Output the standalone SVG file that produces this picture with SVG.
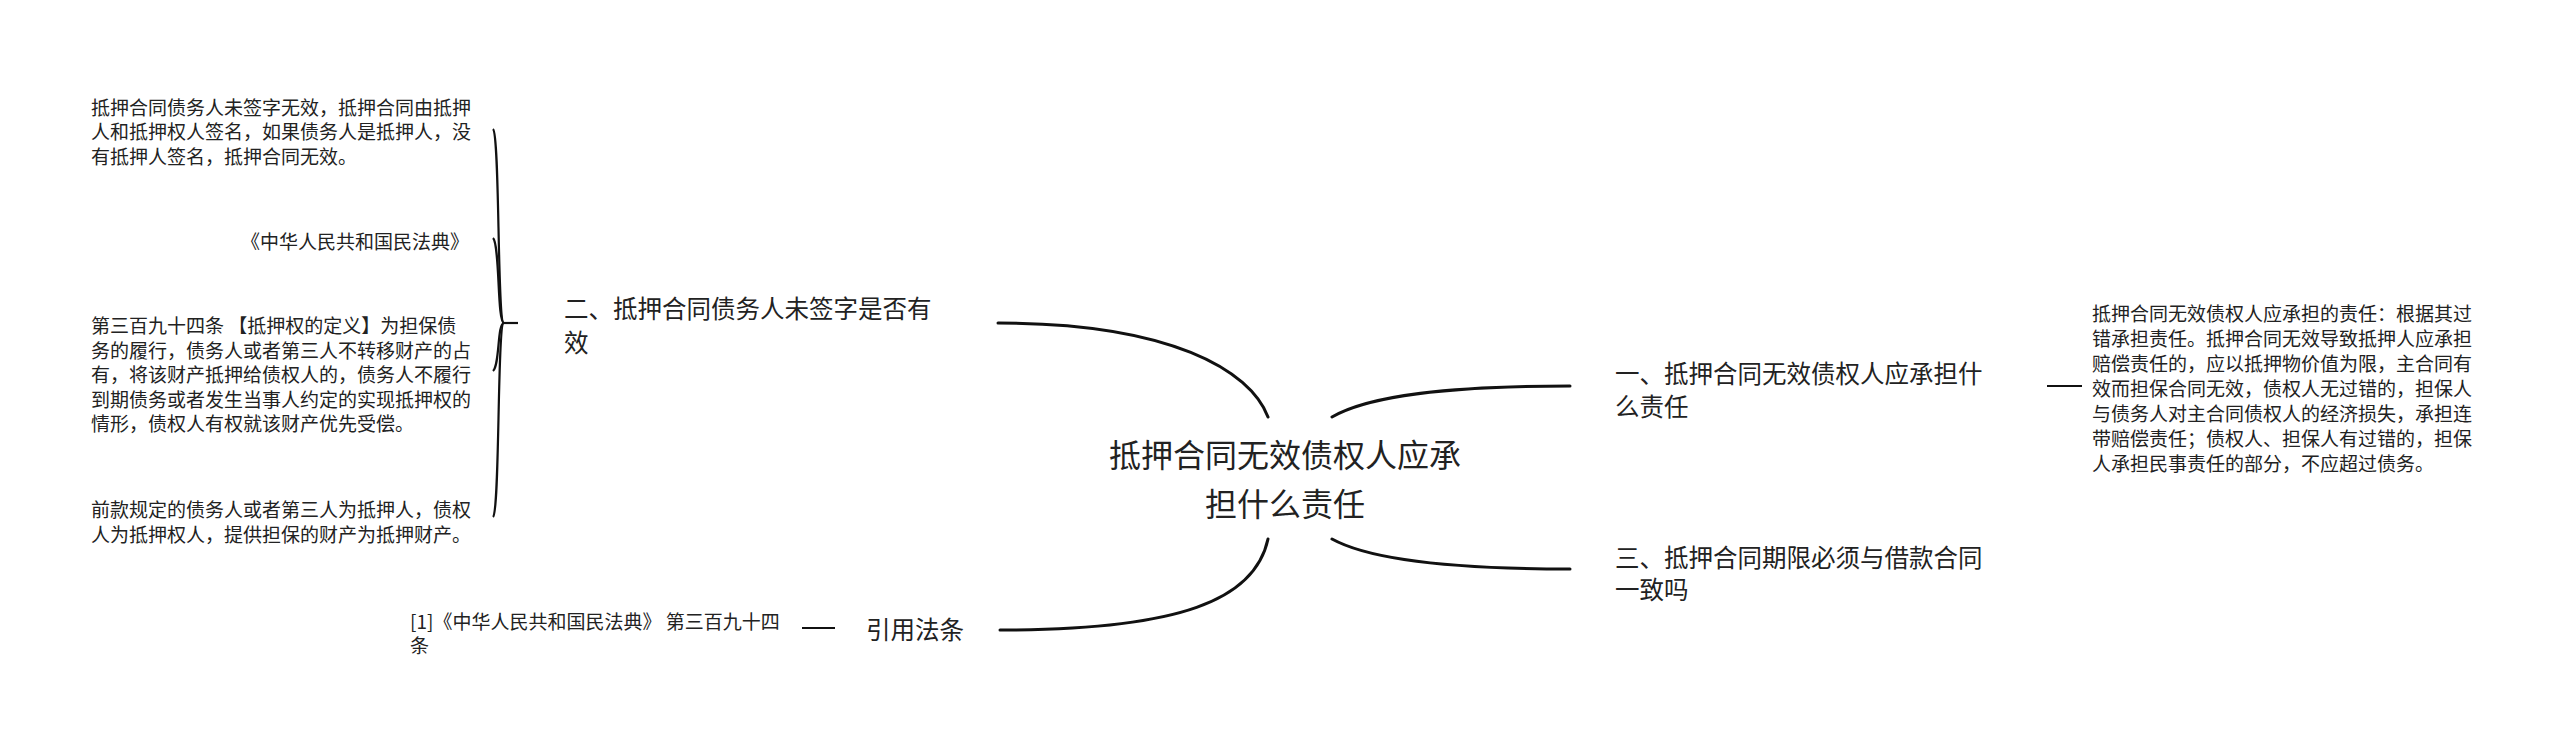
<svg xmlns="http://www.w3.org/2000/svg" width="2560" height="744" viewBox="0 0 2560 744">
<style>
text{font-family:"Noto Sans CJK SC","Noto Sans",sans-serif;fill:#222;dominant-baseline:central}
.s{font-size:19px}
.m{font-size:24.5px}
.t{font-size:32px}
.c{fill:none;stroke:#111;stroke-width:3;stroke-linecap:round}
.b{fill:none;stroke:#111;stroke-width:2.2}
</style>
<rect width="2560" height="744" fill="#fff"/>
<g id="connectors">
<path class="c" d="M998 323 C1170 323 1250 370 1268 417"/>
<path class="c" d="M1000 630 C1180 630 1255 600 1268 539"/>
<path class="c" d="M1332 417 C1370 395 1450 386 1570 386"/>
<path class="c" d="M1332 539 C1370 560 1450 569 1570 569"/>
<path class="b" d="M504 323 L518 323"/>
<path class="b" d="M504 323 C497 323 500 135 493 129"/>
<path class="b" d="M504 323 C497 323 500 244 493 238"/>
<path class="b" d="M504 323 C497 323 500 365 493 371"/>
<path class="b" d="M504 323 C497 323 500 511 493 517"/>
<path class="b" d="M802 628 L835 628"/>
<path class="b" d="M2047 386 L2082 386"/>
</g>
<g id="root"><text class="t" x="1285" y="453" text-anchor="middle">抵押合同无效债权人应承</text><text class="t" x="1285" y="502" text-anchor="middle">担什么责任</text></g>
<g id="n1"><text class="m" x="1615" y="372">一、抵押合同无效债权人应承担什</text><text class="m" x="1615" y="405">么责任</text></g>
<g id="n1a"><text class="s" x="2092" y="312">抵押合同无效债权人应承担的责任：根据其过</text><text class="s" x="2092" y="337">错承担责任。抵押合同无效导致抵押人应承担</text><text class="s" x="2092" y="362">赔偿责任的，应以抵押物价值为限，主合同有</text><text class="s" x="2092" y="387">效而担保合同无效，债权人无过错的，担保人</text><text class="s" x="2092" y="412">与债务人对主合同债权人的经济损失，承担连</text><text class="s" x="2092" y="437">带赔偿责任；债权人、担保人有过错的，担保</text><text class="s" x="2092" y="462">人承担民事责任的部分，不应超过债务。</text></g>
<g id="n3"><text class="m" x="1615" y="556">三、抵押合同期限必须与借款合同</text><text class="m" x="1615" y="588">一致吗</text></g>
<g id="n2"><text class="m" x="564" y="307">二、抵押合同债务人未签字是否有</text><text class="m" x="564" y="341">效</text></g>
<g id="n2a"><text class="s" x="91" y="106">抵押合同债务人未签字无效，抵押合同由抵押</text><text class="s" x="91" y="130">人和抵押权人签名，如果债务人是抵押人，没</text><text class="s" x="91" y="155">有抵押人签名，抵押合同无效。</text></g>
<g id="n2b"><text class="s" x="469" y="240" text-anchor="end">《中华人民共和国民法典》</text></g>
<g id="n2c"><text class="s" x="91" y="324">第三百九十四条 【抵押权的定义】为担保债</text><text class="s" x="91" y="349">务的履行，债务人或者第三人不转移财产的占</text><text class="s" x="91" y="373">有，将该财产抵押给债权人的，债务人不履行</text><text class="s" x="91" y="398">到期债务或者发生当事人约定的实现抵押权的</text><text class="s" x="91" y="422">情形，债权人有权就该财产优先受偿。</text></g>
<g id="n2d"><text class="s" x="91" y="508">前款规定的债务人或者第三人为抵押人，债权</text><text class="s" x="91" y="533">人为抵押权人，提供担保的财产为抵押财产。</text></g>
<g id="n4"><text class="m" x="866" y="628">引用法条</text></g>
<g id="n4a"><text class="s" x="410" y="620">[1]《中华人民共和国民法典》 第三百九十四</text><text class="s" x="410" y="644">条</text></g>
</svg>
